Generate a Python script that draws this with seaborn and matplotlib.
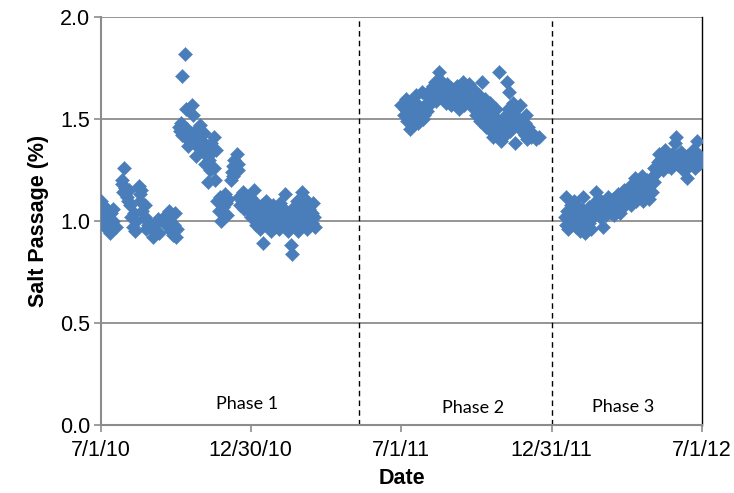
import matplotlib
matplotlib.use("Agg")
import matplotlib.pyplot as plt
import seaborn as sns
import pandas as pd

# ---- Phase 1 measurements ----
phase1_dates = [
    "2010-07-01", "2010-07-02", "2010-07-03", "2010-07-05", "2010-07-06", "2010-07-07",
    "2010-07-08", "2010-07-09", "2010-07-12", "2010-07-13", "2010-07-14", "2010-07-15",
    "2010-07-16", "2010-07-19",
    "2010-07-26", "2010-07-27", "2010-07-28", "2010-07-29", "2010-07-30", "2010-08-02",
    "2010-08-03", "2010-08-04", "2010-08-05", "2010-08-06", "2010-08-09", "2010-08-10",
    "2010-08-11", "2010-08-12",
    "2010-08-16", "2010-08-17", "2010-08-18", "2010-08-19", "2010-08-20", "2010-08-23",
    "2010-08-24", "2010-08-25", "2010-08-26", "2010-08-27",
    "2010-09-01", "2010-09-02", "2010-09-03", "2010-09-07", "2010-09-08", "2010-09-09",
    "2010-09-16", "2010-09-17", "2010-09-20", "2010-09-21", "2010-09-22", "2010-09-23",
    "2010-09-24", "2010-09-27", "2010-09-28", "2010-09-29", "2010-09-30", "2010-10-01",
    "2010-10-04", "2010-10-05", "2010-10-06", "2010-10-07", "2010-10-08", "2010-10-11",
    "2010-10-12", "2010-10-13", "2010-10-14", "2010-10-15", "2010-10-19", "2010-10-20",
    "2010-10-21", "2010-10-22", "2010-10-25", "2010-10-26", "2010-10-27", "2010-10-28",
    "2010-10-29", "2010-11-01", "2010-11-02", "2010-11-03", "2010-11-04", "2010-11-05",
    "2010-11-08", "2010-11-09", "2010-11-10", "2010-11-11", "2010-11-12", "2010-11-15",
    "2010-11-16", "2010-11-17", "2010-11-18",
    "2010-11-19", "2010-11-22", "2010-11-23", "2010-11-24", "2010-11-26", "2010-11-29",
    "2010-11-30", "2010-12-01", "2010-12-02",
    "2010-12-06", "2010-12-07", "2010-12-08", "2010-12-09", "2010-12-10", "2010-12-13",
    "2010-12-14", "2010-12-15",
    "2010-12-16", "2010-12-17", "2010-12-20", "2010-12-21", "2010-12-22", "2010-12-27",
    "2010-12-28",
    "2010-12-29", "2010-12-30", "2010-12-31", "2011-01-03", "2011-01-04", "2011-01-05",
    "2011-01-06", "2011-01-07", "2011-01-10", "2011-01-11", "2011-01-12", "2011-01-13",
    "2011-01-14", "2011-01-17", "2011-01-18", "2011-01-19", "2011-01-20", "2011-01-21",
    "2011-01-24", "2011-01-25", "2011-01-26", "2011-01-27", "2011-01-28", "2011-01-31",
    "2011-02-01", "2011-02-02", "2011-02-03", "2011-02-04", "2011-02-07", "2011-02-08",
    "2011-02-09", "2011-02-10", "2011-02-11", "2011-02-14", "2011-02-15", "2011-02-16",
    "2011-02-17", "2011-02-18", "2011-02-21", "2011-02-22", "2011-02-23", "2011-02-24",
    "2011-02-25", "2011-02-28", "2011-03-01", "2011-03-02", "2011-03-03", "2011-03-04",
    "2011-03-07", "2011-03-08", "2011-03-09", "2011-03-10", "2011-03-11", "2011-03-14",
    "2011-03-15", "2011-03-16", "2011-03-17", "2011-03-18",
]
phase1_values = [
    1.10, 1.05, 1.02, 0.99, 1.07, 1.03,
    0.96, 1.01, 0.94, 1.04, 0.98, 1.06,
    1.00, 0.97,
    1.20, 1.18, 1.14, 1.26, 1.16, 1.12,
    1.10, 1.15, 1.08, 1.02, 0.97, 1.04,
    0.95, 1.00,
    1.17, 1.13, 1.10, 1.15, 1.05, 1.08,
    1.02, 0.96, 1.00, 0.98,
    0.97, 0.92, 0.95, 0.99, 1.01, 0.94,
    1.02, 0.99, 1.03, 0.97, 1.05, 1.00,
    0.95, 0.93, 0.98, 1.04, 0.92, 0.96,
    1.46, 1.44, 1.48, 1.42, 1.71, 1.82,
    1.55, 1.45, 1.40, 1.37, 1.43, 1.57,
    1.52, 1.38, 1.32, 1.45, 1.41, 1.36,
    1.47, 1.39, 1.34, 1.43, 1.28, 1.36,
    1.19, 1.30, 1.25, 1.33, 1.38, 1.41,
    1.26, 1.20, 1.35,
    1.10, 1.05, 1.12, 1.00, 1.07, 1.13,
    1.09, 1.03, 1.11,
    1.20, 1.24, 1.27, 1.22, 1.30, 1.33,
    1.28, 1.25,
    1.12, 1.08, 1.10, 1.14, 1.06, 1.09,
    1.05,
    1.12, 1.02, 1.07, 1.15, 1.05, 0.98,
    1.09, 1.03, 0.96, 0.97, 1.01, 1.08,
    0.89, 1.04, 1.10, 0.99, 1.06, 1.02,
    0.95, 1.00, 1.08, 1.03, 0.97, 1.05,
    1.01, 0.96, 1.04, 1.09, 1.00, 0.98,
    1.06, 1.13, 1.02, 0.95, 1.03, 0.99,
    0.88, 0.84, 1.07, 0.97, 1.02, 1.10,
    0.95, 1.00, 1.04, 1.14, 0.98, 1.08,
    1.03, 0.96, 1.10, 1.01, 1.06, 0.99,
    1.04, 1.09, 1.02, 0.97,
]

# ---- Phase 2 measurements ----
phase2_dates = [
    "2011-07-01", "2011-07-05", "2011-07-06", "2011-07-07", "2011-07-08", "2011-07-11",
    "2011-07-12", "2011-07-13", "2011-07-14", "2011-07-15", "2011-07-18", "2011-07-19",
    "2011-07-20", "2011-07-21", "2011-07-22", "2011-07-25", "2011-07-26", "2011-07-27",
    "2011-07-28", "2011-07-29", "2011-08-01", "2011-08-02", "2011-08-03", "2011-08-04",
    "2011-08-05", "2011-08-08", "2011-08-09", "2011-08-10", "2011-08-11", "2011-08-12",
    "2011-08-15", "2011-08-16", "2011-08-17", "2011-08-18", "2011-08-19", "2011-08-22",
    "2011-08-23", "2011-08-24", "2011-08-25", "2011-08-26", "2011-08-29", "2011-08-30",
    "2011-08-31", "2011-09-01", "2011-09-02", "2011-09-06", "2011-09-07", "2011-09-08",
    "2011-09-09", "2011-09-12", "2011-09-13", "2011-09-14", "2011-09-15", "2011-09-16",
    "2011-09-19", "2011-09-20", "2011-09-21", "2011-09-22", "2011-09-23", "2011-09-26",
    "2011-09-27", "2011-09-28", "2011-09-29", "2011-09-30", "2011-10-03", "2011-10-04",
    "2011-10-05", "2011-10-06", "2011-10-07", "2011-10-10", "2011-10-11", "2011-10-12",
    "2011-10-13", "2011-10-14", "2011-10-17", "2011-10-18", "2011-10-19", "2011-10-20",
    "2011-10-21", "2011-10-24", "2011-10-25", "2011-10-26", "2011-10-27", "2011-10-28",
    "2011-10-31", "2011-11-01", "2011-11-02", "2011-11-03", "2011-11-04", "2011-11-07",
    "2011-11-08", "2011-11-09", "2011-11-10", "2011-11-11", "2011-11-14", "2011-11-15",
    "2011-11-16", "2011-11-17", "2011-11-18", "2011-11-21", "2011-11-22", "2011-11-23",
    "2011-11-28", "2011-11-29", "2011-11-30", "2011-12-01", "2011-12-02", "2011-12-05",
    "2011-12-06", "2011-12-09", "2011-12-12", "2011-12-16",
]
phase2_values = [
    1.57, 1.52, 1.55, 1.60, 1.49, 1.53,
    1.45, 1.58, 1.50, 1.47, 1.55, 1.62,
    1.51, 1.57, 1.48, 1.54, 1.63, 1.50,
    1.56, 1.52, 1.58, 1.54, 1.61, 1.57,
    1.64, 1.60, 1.66, 1.62, 1.68, 1.59,
    1.65, 1.73, 1.69, 1.63, 1.66, 1.60,
    1.64, 1.58, 1.62, 1.67, 1.61, 1.57,
    1.65, 1.60, 1.63, 1.58, 1.66, 1.61,
    1.55, 1.59, 1.64, 1.68, 1.62, 1.57,
    1.65, 1.60, 1.63, 1.67, 1.58, 1.61,
    1.55, 1.64, 1.59, 1.52, 1.56, 1.62,
    1.49, 1.57, 1.68, 1.53, 1.60, 1.46,
    1.55, 1.50, 1.58, 1.44, 1.52, 1.48,
    1.41, 1.55, 1.47, 1.50, 1.43, 1.73,
    1.39, 1.45, 1.41, 1.51, 1.48, 1.68,
    1.55, 1.63, 1.44, 1.49, 1.58, 1.52,
    1.47, 1.38, 1.55, 1.50, 1.45, 1.57,
    1.48, 1.42, 1.52, 1.40, 1.46, 1.43,
    1.41, 1.42, 1.40, 1.41,
]

# ---- Phase 3 measurements ----
phase3_dates = [
    "2012-01-16", "2012-01-17", "2012-01-18", "2012-01-19", "2012-01-20", "2012-01-23",
    "2012-01-24", "2012-01-25", "2012-01-26", "2012-01-27", "2012-01-30", "2012-01-31",
    "2012-02-01", "2012-02-02", "2012-02-03", "2012-02-06", "2012-02-07", "2012-02-08",
    "2012-02-09", "2012-02-10", "2012-02-13", "2012-02-14", "2012-02-15", "2012-02-16",
    "2012-02-17", "2012-02-20", "2012-02-21", "2012-02-22", "2012-02-23", "2012-02-24",
    "2012-02-27", "2012-02-28", "2012-02-29", "2012-03-01", "2012-03-02", "2012-03-05",
    "2012-03-06", "2012-03-07", "2012-03-08", "2012-03-09", "2012-03-12", "2012-03-13",
    "2012-03-14", "2012-03-15", "2012-03-16", "2012-03-19", "2012-03-20", "2012-03-21",
    "2012-03-22", "2012-03-23", "2012-03-26", "2012-03-27", "2012-03-28", "2012-03-29",
    "2012-03-30", "2012-04-02", "2012-04-03", "2012-04-04", "2012-04-05", "2012-04-06",
    "2012-04-09", "2012-04-10", "2012-04-11", "2012-04-12", "2012-04-13", "2012-04-16",
    "2012-04-17", "2012-04-18", "2012-04-19", "2012-04-20", "2012-04-23", "2012-04-24",
    "2012-04-25", "2012-04-26", "2012-04-27", "2012-04-30", "2012-05-01", "2012-05-02",
    "2012-05-03", "2012-05-04", "2012-05-07", "2012-05-08", "2012-05-09", "2012-05-10",
    "2012-05-11", "2012-05-14", "2012-05-15", "2012-05-16", "2012-05-17", "2012-05-18",
    "2012-05-21", "2012-05-22", "2012-05-23", "2012-05-24", "2012-05-25", "2012-05-28",
    "2012-05-29", "2012-05-30", "2012-05-31", "2012-06-01", "2012-06-04", "2012-06-05",
    "2012-06-06", "2012-06-07", "2012-06-08", "2012-06-11", "2012-06-12", "2012-06-13",
    "2012-06-14", "2012-06-15", "2012-06-18", "2012-06-19", "2012-06-20", "2012-06-21",
    "2012-06-22", "2012-06-25", "2012-06-26", "2012-06-27", "2012-06-28",
]
phase3_values = [
    1.02, 1.12, 0.98, 1.05, 0.96, 1.08,
    1.01, 0.99, 1.04, 1.10, 0.97, 1.03,
    1.07, 1.00, 0.95, 1.06, 1.12, 0.98,
    1.02, 0.94, 1.04, 0.99, 1.07, 1.01,
    0.96, 1.05, 1.09, 1.03, 1.14, 1.06,
    1.08, 1.02, 1.10, 1.05, 0.97, 1.07,
    1.03, 1.09, 1.05, 1.12, 1.04, 1.08,
    1.06, 1.11, 1.03, 1.09, 1.06, 1.13,
    1.08, 1.04, 1.10, 1.07, 1.15, 1.12,
    1.09, 1.14, 1.11, 1.17, 1.08, 1.13,
    1.16, 1.21, 1.10, 1.18, 1.14, 1.12,
    1.19, 1.15, 1.22, 1.10, 1.17, 1.13,
    1.20, 1.16, 1.11, 1.18, 1.14, 1.22,
    1.19, 1.26, 1.24, 1.29, 1.27, 1.33,
    1.30, 1.25, 1.28, 1.31, 1.35, 1.29,
    1.27, 1.32, 1.30, 1.26, 1.33, 1.29,
    1.38, 1.41, 1.32, 1.28, 1.30, 1.34,
    1.27, 1.31, 1.25, 1.29, 1.32, 1.21,
    1.30, 1.27, 1.33, 1.29, 1.35, 1.31,
    1.26, 1.39, 1.33, 1.28, 1.30,
]

# Axis ticks, phase boundaries and labels
tick_dates = ["2010-07-01", "2010-12-30", "2011-07-01", "2011-12-31", "2012-07-01"]
tick_labels = ["7/1/10", "12/30/10", "7/1/11", "12/31/11", "7/1/12"]
phase_boundaries = ["2011-05-11", "2011-12-31"]
phase_names = ["Phase 1", "Phase 2", "Phase 3"]
phase_label_dates = ["2010-12-26", "2011-09-27", "2012-03-27"]
phase_label_levels = [0.065, 0.045, 0.05]
y_ticks = [0.0, 0.5, 1.0, 1.5, 2.0]

df = pd.DataFrame({
    "Date": pd.to_datetime(phase1_dates + phase2_dates + phase3_dates),
    "Salt Passage (%)": phase1_values + phase2_values + phase3_values,
})

sns.set_theme(style="white")
plt.rcParams["font.family"] = ["Liberation Sans", "DejaVu Sans"]
plt.rcParams["text.color"] = "black"
plt.rcParams["axes.labelcolor"] = "black"

fig = plt.figure(figsize=(7.34, 4.93), dpi=100)
ax = fig.add_axes([0.1376, 0.138, 0.819, 0.8275])

grid_color = "#8c8c8c"
for yv in y_ticks[1:]:
    ax.axhline(yv, color=grid_color, lw=1.3, zorder=0)

for b in phase_boundaries:
    ax.axvline(pd.Timestamp(b), color="black", lw=1.0, ls=(0, (4, 3)), zorder=1)

sns.scatterplot(data=df, x="Date", y="Salt Passage (%)", marker="D", s=52,
                color="#4a7ebb", edgecolor="#4a7ebb", linewidth=0.3, ax=ax, zorder=3)

ax.set_xlim(pd.Timestamp("2010-07-01"), pd.Timestamp("2012-07-01"))
ax.set_ylim(0, 2.0)
ax.set_xticks(pd.to_datetime(tick_dates))
ax.set_xticklabels(tick_labels)
ax.set_yticks(y_ticks)
ax.set_yticklabels([f"{v:.1f}" for v in y_ticks])

ax.tick_params(axis="both", which="major", labelsize=15.5, length=5, width=1.2,
               color=grid_color, labelcolor="black", direction="out", pad=3)
ax.tick_params(axis="x", pad=6)
ax.xaxis.set_ticks_position("bottom")
ax.yaxis.set_ticks_position("left")

for side in ["left", "bottom"]:
    ax.spines[side].set_color(grid_color)
    ax.spines[side].set_linewidth(1.5)
ax.spines["top"].set_visible(False)
ax.spines["right"].set_color("black")
ax.spines["right"].set_linewidth(1.0)

ax.set_xlabel("Date", fontsize=15.5, fontweight="bold", labelpad=5)
ax.set_ylabel("Salt Passage (%)", fontsize=15.5, fontweight="bold", labelpad=8)

for name, d, lvl in zip(phase_names, phase_label_dates, phase_label_levels):
    ax.text(pd.Timestamp(d), lvl, name, ha="center", va="bottom",
            fontsize=13, family=["Lato", "DejaVu Sans"], color="black")

fig.savefig("out.png", dpi=100)
